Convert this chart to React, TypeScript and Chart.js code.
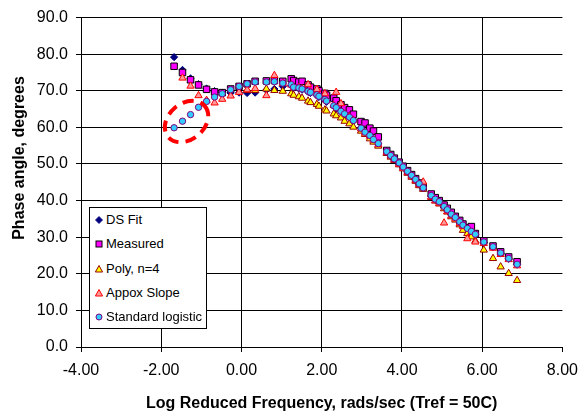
import React, { useEffect, useRef } from 'react';
import { Chart, registerables } from 'chart.js';

Chart.register(...registerables);

// ---- data ----
const logFreq = [
  -1.68, -1.47, -1.27, -1.07, -0.87, -0.67, -0.48, -0.27, -0.06, 0.14,
  0.34, 0.62, 0.82, 1.03, 1.24, 1.30, 1.43, 1.51, 1.66, 1.72,
  1.88, 1.93, 2.08, 2.12, 2.30, 2.36, 2.48, 2.57, 2.69, 2.79,
  2.98, 3.08, 3.20, 3.29, 3.41, 3.62, 3.72, 3.81, 3.93, 4.03,
  4.14, 4.24, 4.34, 4.43, 4.53, 4.73, 4.83, 4.93, 5.05, 5.13,
  5.23, 5.33, 5.44, 5.52, 5.63, 5.73, 5.83, 6.04, 6.27, 6.46,
  6.66, 6.87,
];

const dsFit = [
  79.2, 75.7, 73.4, 71.8, 70.6, 69.9, 69.5, 69.4, 69.5, 69.4,
  69.5, 70.2, 70.5, 71.2, 71.4, 71.0, 70.6, 70.3, 69.7, 69.4,
  68.7, 68.3, 67.4, 67.0, 65.8, 65.2, 64.3, 63.6, 62.7, 61.8,
  59.7, 58.6, 57.7, 56.6, 55.5, 53.3, 52.2, 51.3, 50.2, 49.1,
  47.9, 46.8, 45.7, 44.5, 43.4, 41.3, 40.3, 39.6, 38.3, 37.4,
  36.2, 35.3, 34.1, 33.2, 32.3, 31.5, 30.7, 28.6, 27.3, 25.6,
  24.1, 22.5,
];

const measured = [
  76.7, 75.0, 73.0, 71.6, 70.4, 69.7, 69.5, 70.5, 71.2, 71.9,
  72.6, 72.7, 72.8, 72.6, 73.3, 72.8, 72.4, 72.6, 71.6, 71.0,
  70.5, 70.0, 69.3, 68.8, 68.0, 67.3, 66.2, 65.4, 64.8, 63.6,
  61.6, 61.2, 59.8, 59.0, 57.4, 53.7, 52.6, 51.6, 50.5, 49.4,
  48.2, 47.1, 46.0, 44.8, 43.6, 41.8, 40.8, 40.0, 38.8, 37.9,
  36.8, 35.7, 34.6, 33.6, 32.6, 32.9, 31.0, 29.0, 27.6, 26.0,
  24.6, 23.3,
];

const poly4 = [
  null, null, null, null, null, null, null, null, null, 70.1,
  70.1, 70.5, 70.1, 69.9, 69.2, 68.8, 68.4, 68.0, 67.2, 66.8,
  66.3, 65.8, 64.8, 64.5, 63.7, 63.2, 62.6, 61.7, 61.0, 60.1,
  59.0, 58.1, 56.9, 56.0, 54.9, 52.9, 51.9, 51.0, 49.8, 48.7,
  47.5, 46.4, 45.3, 44.1, 43.1, 40.9, 39.9, 39.1, 37.8, 36.9,
  35.6, 34.7, 33.4, 31.9, 31.0, 30.1, 29.0, 26.5, 24.2, 21.9,
  20.1, 18.2,
];

const approxSlope = [
  null, 73.5, 71.3, 68.7, 67.4, 66.7, 67.7, 68.6, 69.6, 70.3,
  70.6, 68.7, 74.2, 72.0, 71.6, 71.0, 70.9, 70.6, 71.7, 69.7,
  70.4, 68.6, 69.2, 67.3, 66.0, 69.6, 66.5, 63.7, 62.9, 62.0,
  59.6, 58.5, 57.6, 56.5, 55.3, 53.2, 52.2, 51.2, 50.0, 48.9,
  47.7, 46.7, 45.5, 44.4, 45.1, 41.0, 40.0, 39.3, 33.9, 37.0,
  35.9, 35.0, 33.8, 32.9, 29.6, 31.3, 28.7, 28.3, 27.0, 25.3,
  23.9, 22.2,
];

const stdLogistic = [
  59.9, 61.7, 63.5, 65.5, 67.1, 68.3, 69.2, 70.3, 71.2, 71.9,
  72.4, 72.4, 72.5, 72.1, 71.7, 71.0, 70.8, 70.5, 69.9, 69.6,
  68.9, 68.5, 67.6, 67.2, 65.9, 65.4, 64.4, 63.7, 62.8, 61.9,
  59.8, 58.7, 57.8, 56.7, 55.6, 53.4, 52.3, 51.4, 50.3, 49.2,
  48.0, 46.9, 45.8, 44.6, 43.5, 41.4, 40.4, 39.7, 38.4, 37.5,
  36.3, 35.4, 34.2, 33.3, 32.4, 31.6, 30.8, 28.7, 27.4, 25.7,
  24.2, 22.6,
];

const seriesNames = ['DS Fit', 'Measured', 'Poly, n=4', 'Appox Slope', 'Standard logistic'];
const xTitle = 'Log Reduced Frequency, rads/sec (Tref = 50C)';
const yTitle = 'Phase angle, degrees';
const xRange = [-4, 8];
const yRange = [0, 90];
const ellipseCenter = [-1.37, 61.6];

const FONT = "'Liberation Sans', Arial, Helvetica, sans-serif";

const toPoints = (ys: (number | null)[]) =>
  logFreq
    .map((x, i) => (ys[i] == null ? null : { x, y: ys[i] as number }))
    .filter((p) => p !== null) as { x: number; y: number }[];

const ellipsePlugin = {
  id: 'dashedEllipse',
  afterDatasetsDraw(chart: any) {
    const { ctx, scales } = chart;
    const cx = scales.x.getPixelForValue(ellipseCenter[0]);
    const cy = scales.y.getPixelForValue(ellipseCenter[1]);
    ctx.save();
    ctx.strokeStyle = '#FF0000';
    ctx.lineWidth = 4;
    ctx.setLineDash([11, 7]);
    ctx.beginPath();
    ctx.ellipse(cx, cy, 24, 18, (-40 * Math.PI) / 180, 0, Math.PI * 2);
    ctx.stroke();
    ctx.restore();
  },
};

const yTitlePlugin = {
  id: 'yTitle',
  afterDraw(chart: any) {
    const { ctx } = chart;
    ctx.save();
    ctx.translate(20, 158);
    ctx.rotate(-Math.PI / 2);
    ctx.font = `bold 16px ${FONT}`;
    ctx.fillStyle = '#000';
    ctx.textAlign = 'center';
    ctx.textBaseline = 'middle';
    ctx.fillText(yTitle, 0, 0);
    ctx.restore();
  },
};

function Marker({ kind }: { kind: number }) {
  const s = 10;
  let shape: any = null;
  if (kind === 0) shape = <polygon points="5,1.5 8.5,5 5,8.5 1.5,5" fill="#000080" stroke="#000080" strokeWidth="0.8" />;
  if (kind === 1) shape = <rect x="2" y="2" width="6" height="6" fill="#FF00FF" stroke="#000" strokeWidth="1" />;
  if (kind === 2) shape = <polygon points="5,1.5 8.6,8 1.4,8" fill="#FFFF00" stroke="#990000" strokeWidth="1" />;
  if (kind === 3) shape = <polygon points="5,1.5 8.6,8 1.4,8" fill="#FF9999" stroke="#FF0000" strokeWidth="1" />;
  if (kind === 4) shape = <circle cx="5" cy="5" r="3" fill="#33CCFF" stroke="#800080" strokeWidth="1" />;
  return (
    <svg width={s} height={s} style={{ position: 'absolute', left: 4, top: 7 }}>
      {shape}
    </svg>
  );
}

export default function App() {
  const canvasRef = useRef<HTMLCanvasElement | null>(null);

  useEffect(() => {
    if (!canvasRef.current) return;
    Chart.defaults.color = '#000';
    const chart = new Chart(canvasRef.current, {
      type: 'scatter',
      data: {
        datasets: [
          {
            label: seriesNames[0],
            data: toPoints(dsFit),
            pointStyle: 'rectRot',
            pointRadius: 3.6,
            backgroundColor: '#000080',
            borderColor: '#000080',
            borderWidth: 1,
            order: 5,
          },
          {
            label: seriesNames[1],
            data: toPoints(measured),
            pointStyle: 'rect',
            pointRadius: 4.6,
            backgroundColor: '#FF00FF',
            borderColor: '#000000',
            borderWidth: 1,
            order: 4,
          },
          {
            label: seriesNames[2],
            data: toPoints(poly4),
            pointStyle: 'triangle',
            pointRadius: 4.2,
            backgroundColor: '#FFFF00',
            borderColor: '#990000',
            borderWidth: 1,
            order: 3,
          },
          {
            label: seriesNames[3],
            data: toPoints(approxSlope),
            pointStyle: 'triangle',
            pointRadius: 4.2,
            backgroundColor: '#FF9999',
            borderColor: '#FF0000',
            borderWidth: 1,
            order: 2,
          },
          {
            label: seriesNames[4],
            data: toPoints(stdLogistic),
            pointStyle: 'circle',
            pointRadius: 3.2,
            backgroundColor: '#33CCFF',
            borderColor: '#800080',
            borderWidth: 1,
            order: 1,
          },
        ],
      },
      options: {
        animation: false,
        responsive: true,
        maintainAspectRatio: false,
        layout: { padding: { top: 17, right: 23, bottom: 0, left: 0 } },
        plugins: {
          legend: { display: false },
          tooltip: { enabled: false },
        },
        scales: {
          x: {
            type: 'linear',
            min: xRange[0],
            max: xRange[1],
            afterFit: (scale: any) => {
              scale.height = 71;
            },
            ticks: {
              stepSize: 2,
              padding: 9,
              font: { family: FONT, size: 16 },
              color: '#000',
              callback: (v: any) => Number(v).toFixed(2),
            },
            grid: {
              color: (c: any) => (c.tick && c.tick.value === xRange[1] ? 'rgba(0,0,0,0)' : '#000'),
              tickColor: '#000',
              tickLength: 5,
              lineWidth: 1,
            },
            border: { color: '#000', width: 1 },
            title: {
              display: true,
              text: xTitle,
              font: { family: FONT, size: 16, weight: 'bold' },
              color: '#000',
              padding: { top: 0, bottom: 5 },
            },
          },
          y: {
            type: 'linear',
            min: yRange[0],
            max: yRange[1],
            afterFit: (scale: any) => {
              scale.width = 81;
            },
            ticks: {
              stepSize: 10,
              padding: 8,
              font: { family: FONT, size: 16 },
              color: '#000',
              callback: (v: any) => Number(v).toFixed(1),
            },
            grid: {
              color: '#000',
              tickColor: '#000',
              tickLength: 5,
              lineWidth: 1,
            },
            border: { color: '#000', width: 1 },
          },
        },
      },
      plugins: [ellipsePlugin, yTitlePlugin],
    } as any);
    return () => chart.destroy();
  }, []);

  return (
    <div
      style={{
        position: 'fixed',
        left: 0,
        top: 0,
        width: 587,
        height: 418,
        background: '#fff',
      }}
    >
      <canvas ref={canvasRef} />
      <div
        style={{
          position: 'absolute',
          left: 89,
          top: 207,
          width: 116,
          height: 120,
          border: '1px solid #000',
          background: '#fff',
          fontFamily: FONT,
          fontSize: 13,
          color: '#000',
        }}
      >
        {seriesNames.map((name, i) => (
          <div
            key={name}
            style={{
              position: 'absolute',
              left: 0,
              top: i * 24.35,
              height: 24.35,
              width: '100%',
            }}
          >
            <Marker kind={i} />
            <span
              style={{
                position: 'absolute',
                left: 16,
                top: 0,
                lineHeight: '24.35px',
                whiteSpace: 'nowrap',
              }}
            >
              {name}
            </span>
          </div>
        ))}
      </div>
    </div>
  );
}
